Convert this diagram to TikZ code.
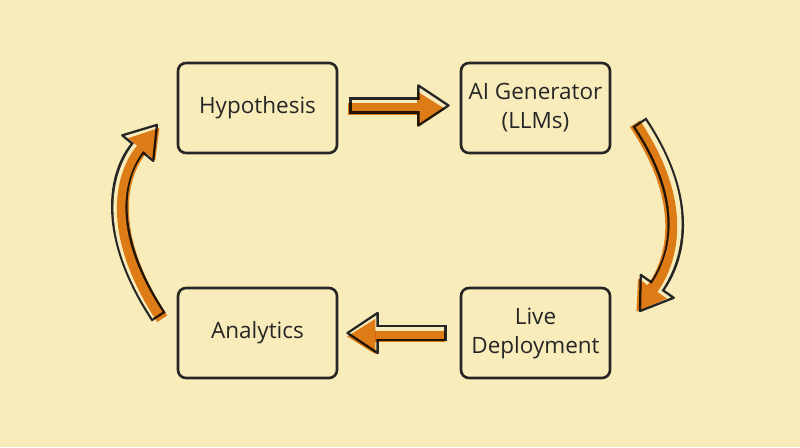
\documentclass[tikz,border=0pt]{standalone}
\usepackage{fontspec}
\setmainfont{Open Sans}
\usetikzlibrary{arrows.meta}

% fat sketchy arrow: outline, inner paper, orange wash
\newcommand{\fatarrow}[2]{%
  \draw[line width=9.4pt, draw=ink,
    -{Triangle[length=19pt,width=25pt,line width=1.3pt,fill=paper,round]}] #2;
  \draw[line width=6.8pt, draw=paper, shorten <=1.3pt, shorten >=16pt] #2;
  \begin{scope}[blend mode=multiply, transform canvas={shift={#1}}]
    \draw[line width=6.8pt, draw=wash,
      -{Triangle[length=16pt,width=20pt,line width=0pt,fill=wash]}, shorten >=1.5pt] #2;
  \end{scope}}

\begin{document}
\begin{tikzpicture}[
    font=\fontsize{12.8}{16.5}\selectfont,
    stepbox/.style={draw=ink, line width=1.5pt, rounded corners=0.16cm,
      minimum height=1.8cm, align=center, text=ink}
  ]

% Define the colors
\definecolor{paper}{HTML}{F9ECBB}
\definecolor{ink}{HTML}{262626}
\definecolor{wash}{HTML}{E3871F}

% Background
\useasboundingbox (0,0) rectangle (16,8.94);
\fill[paper] (0,0) rectangle (16,8.94);

% Draw the boxes
\node[stepbox, minimum width=3.18cm] (hyp) at (5.15,6.78) {Hypothesis};
\node[stepbox, minimum width=2.98cm] (gen) at (10.71,6.78) {AI Generator\\(LLMs)};
\node[stepbox, minimum width=2.98cm] (live) at (10.71,2.28) {Live\\Deployment};
\node[stepbox, minimum width=3.18cm] (ana) at (5.15,2.28) {Analytics};

% Arrow ends
\coordinate (t1) at ([shift={(0.22,0.05)}]hyp.east);
\coordinate (t2) at ([shift={(-0.2,0.05)}]gen.west);
\coordinate (r1) at ([shift={(0.56,-0.28)}]gen.east);
\coordinate (r2) at ([shift={(0.56,0.42)}]live.east);
\coordinate (b1) at ([shift={(-0.26,0)}]live.west);
\coordinate (b2) at ([shift={(0.16,0)}]ana.east);
\coordinate (l1) at ([shift={(-0.36,0.32)}]ana.west);
\coordinate (l2) at ([shift={(-0.38,-0.32)}]hyp.west);

% Draw the arrows
\fatarrow{(-1pt,-2pt)}{(t1) -- (t2)}
\fatarrow{(-2.5pt,-1pt)}{(r1) .. controls +(1.04,-1.56) and +(0.78,1.12) .. (r2)}
\fatarrow{(-1pt,-2pt)}{(b1) -- (b2)}
\fatarrow{(2pt,-1pt)}{(l1) .. controls +(-1.18,1.8) and +(-0.76,-0.92) .. (l2)}

\end{tikzpicture}
\end{document}
